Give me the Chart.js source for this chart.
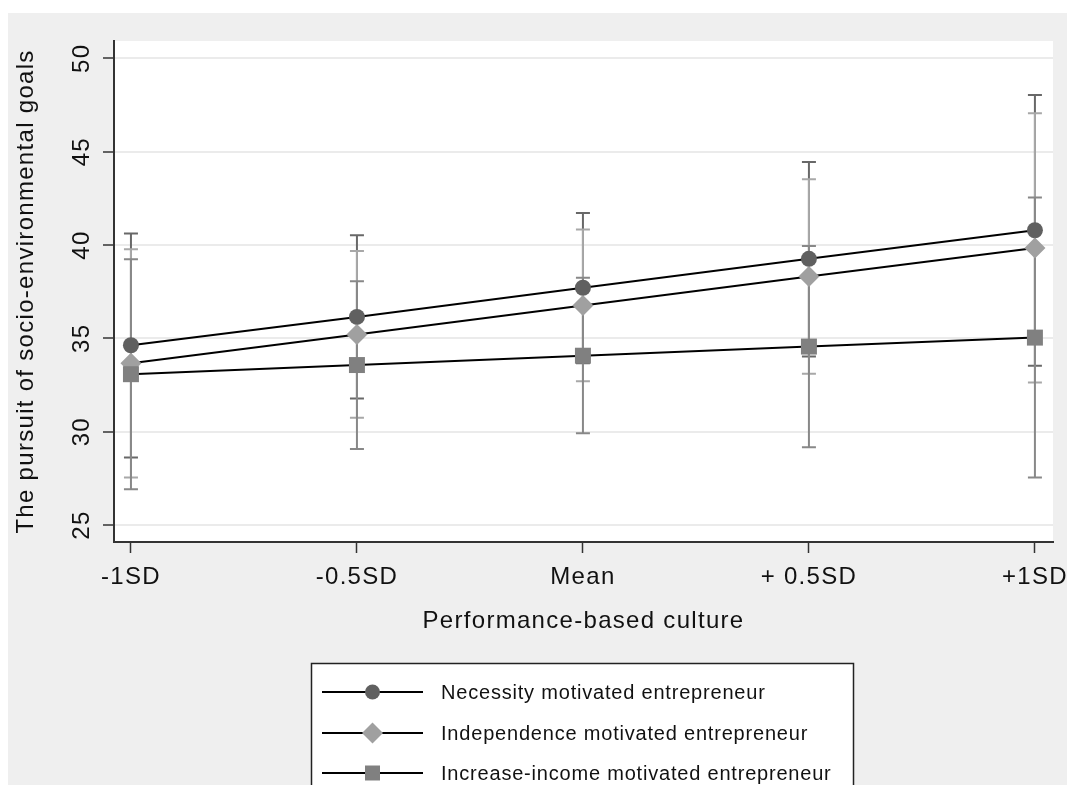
<!DOCTYPE html>
<html>
<head>
<meta charset="utf-8">
<script src="https://cdn.jsdelivr.net/npm/chart.js@4.4.1/dist/chart.umd.min.js"></script>
<style>
  html, body { margin: 0; padding: 0; background: #fff; overflow: hidden; }
  #wrap { width: 1067px; height: 785px; position: relative; }
  #chart { display: block; }
</style>
</head>
<body>
<div id="wrap"><canvas id="chart"></canvas></div>
<script>
// x categories
const categories = ['-1SD', '-0.5SD', 'Mean', '+ 0.5SD', '+1SD'];
const seriesLabels = [
    'Necessity motivated entrepreneur',
    'Independence motivated entrepreneur',
    'Increase-income motivated entrepreneur'
];

// predicted values and CI bounds
const necessity   = [34.63, 36.15, 37.71, 39.26, 40.79];
const necessityLo = [28.62, 31.78, 33.66, 34.03, 33.53];
const necessityHi = [40.62, 40.52, 41.72, 44.45, 48.04];

const independence   = [33.67, 35.21, 36.76, 38.31, 39.84];
const independenceLo = [27.55, 30.74, 32.70, 33.10, 32.64];
const independenceHi = [39.78, 39.68, 40.83, 43.52, 47.06];

const increase   = [33.08, 33.57, 34.07, 34.56, 35.04];
const increaseLo = [26.91, 29.07, 29.91, 29.16, 27.54];
const increaseHi = [39.24, 38.06, 38.24, 39.95, 42.54];

const FONT = "'Liberation Sans', Arial, Helvetica, sans-serif";

// look of each series (marker + error bar colour)
const looks = [
    { style: 'circle',  radius: 8,    fill: '#606060', bar: '#686868' },
    { style: 'rectRot', radius: 10.5, fill: '#a0a0a0', bar: '#a8a8a8' },
    { style: 'rect',    radius: 11.3, fill: '#808080', bar: '#888888' }
];
const bounds = [
    [necessityLo, necessityHi],
    [independenceLo, independenceHi],
    [increaseLo, increaseHi]
];

function toPoints(arr) {
    return arr.map((v, i) => ({ x: i, y: v }));
}

// background: gray graph region, white plot region
const backgroundPlugin = {
    id: 'bg',
    beforeDraw(chart) {
        const ctx = chart.ctx;
        const a = chart.chartArea;
        ctx.save();
        ctx.fillStyle = '#ffffff';
        ctx.fillRect(0, 0, chart.width, chart.height);
        ctx.fillStyle = '#efefef';
        ctx.fillRect(8, 13, chart.width - 8, chart.height - 13);
        ctx.fillStyle = '#ffffff';
        ctx.fillRect(a.left, a.top, a.right - a.left, a.bottom - a.top);
        ctx.restore();
        ctx.letterSpacing = '1.3px';
    }
};

// capped error bars, drawn behind the lines
const errorBarPlugin = {
    id: 'errbars',
    beforeDatasetsDraw(chart) {
        const ctx = chart.ctx;
        const xs = chart.scales.x, ys = chart.scales.y;
        ctx.save();
        ctx.lineWidth = 2;
        bounds.forEach((b, s) => {
            ctx.strokeStyle = looks[s].bar;
            b[0].forEach((lo, i) => {
                const x = xs.getPixelForValue(i);
                const y1 = ys.getPixelForValue(lo);
                const y2 = ys.getPixelForValue(b[1][i]);
                ctx.beginPath();
                ctx.moveTo(x, y1); ctx.lineTo(x, y2);
                ctx.moveTo(x - 7, y1); ctx.lineTo(x + 7, y1);
                ctx.moveTo(x - 7, y2); ctx.lineTo(x + 7, y2);
                ctx.stroke();
            });
        });
        ctx.restore();
    }
};

function drawMarker(ctx, look, x, y) {
    ctx.fillStyle = look.fill;
    ctx.beginPath();
    if (look.style === 'circle') {
        ctx.arc(x, y, 7.5, 0, Math.PI * 2);
    } else if (look.style === 'rectRot') {
        const r = 10.5;
        ctx.moveTo(x, y - r); ctx.lineTo(x + r, y); ctx.lineTo(x, y + r); ctx.lineTo(x - r, y);
        ctx.closePath();
    } else {
        ctx.rect(x - 7.5, y - 7.5, 15, 15);
    }
    ctx.fill();
}

// rotated y tick labels + legend box
const extrasPlugin = {
    id: 'extras',
    afterDraw(chart) {
        const ctx = chart.ctx;
        const ys = chart.scales.y;
        ctx.save();
        ctx.letterSpacing = '1.3px';
        ctx.fillStyle = '#111';
        ctx.font = '24px ' + FONT;
        ctx.textAlign = 'center';
        ctx.textBaseline = 'middle';
        ys.ticks.forEach(t => {
            const y = ys.getPixelForValue(t.value);
            ctx.save();
            ctx.translate(82, y);
            ctx.rotate(-Math.PI / 2);
            ctx.fillText(String(t.value), 0, 0);
            ctx.restore();
        });
        ctx.restore();

        // legend
        ctx.save();
        ctx.fillStyle = '#ffffff';
        ctx.strokeStyle = '#222';
        ctx.lineWidth = 1.5;
        ctx.fillRect(311.5, 663.5, 542, 140);
        ctx.strokeRect(311.5, 663.5, 542, 140);
        const rows = [692, 733, 773];
        seriesLabels.forEach((label, i) => {
            const y = rows[i];
            ctx.strokeStyle = '#000';
            ctx.lineWidth = 2;
            ctx.beginPath();
            ctx.moveTo(322, y); ctx.lineTo(423, y);
            ctx.stroke();
            drawMarker(ctx, looks[i], 372.5, y);
            ctx.letterSpacing = '0.8px';
            ctx.fillStyle = '#111';
            ctx.font = '20px ' + FONT;
            ctx.textAlign = 'left';
            ctx.textBaseline = 'middle';
            ctx.fillText(label, 441, y + 1);
        });
        ctx.restore();
    }
};

const seriesData = [necessity, independence, increase];

new Chart(document.getElementById('chart'), {
    type: 'line',
    data: {
        datasets: seriesData.map((vals, i) => ({
            label: seriesLabels[i],
            data: toPoints(vals),
            borderColor: '#000',
            borderWidth: 2,
            pointStyle: looks[i].style,
            pointRadius: looks[i].radius,
            pointBackgroundColor: looks[i].fill,
            pointBorderColor: looks[i].fill,
            pointBorderWidth: 0,
            tension: 0,
            order: 2 - i
        }))
    },
    options: {
        responsive: true,
        maintainAspectRatio: false,
        animation: false,
        layout: { padding: { top: 41, right: 14, bottom: 146, left: 0 } },
        plugins: {
            legend: { display: false },
            tooltip: { enabled: false }
        },
        scales: {
            x: {
                type: 'linear',
                min: -0.075,
                max: 4.08,
                grid: { drawOnChartArea: false, drawTicks: true, tickLength: 11, tickColor: '#333', tickWidth: 1.5 },
                border: { display: true, color: '#333', width: 2 },
                ticks: {
                    stepSize: 1,
                    includeBounds: false,
                    autoSkip: false,
                    maxRotation: 0,
                    padding: 10,
                    color: '#111',
                    font: { family: FONT, size: 24 },
                    callback: v => categories[v] ?? ''
                },
                title: {
                    display: true,
                    text: 'Performance-based culture',
                    color: '#111',
                    font: { family: FONT, size: 24 },
                    padding: { top: 0, bottom: 3.6 }
                },
                afterFit: s => {
                    s.height = 97;
                    // the +1SD label may hang past the plot edge, as in the original
                    s.paddingLeft = 0;
                    s.paddingRight = 0;
                }
            },
            y: {
                min: 24.09,
                max: 50.93,
                grid: { color: '#ebebeb', lineWidth: 2, tickLength: 11, tickColor: '#333', tickWidth: 1.5 },
                border: { display: true, color: '#333', width: 2 },
                ticks: { stepSize: 5, includeBounds: false, display: false },
                title: {
                    display: true,
                    text: 'The pursuit of socio-environmental goals',
                    color: '#111',
                    font: { family: FONT, size: 24 },
                    padding: { top: 12, bottom: 0 }
                },
                afterFit: s => { s.width = 114; }
            }
        }
    },
    plugins: [backgroundPlugin, errorBarPlugin, extrasPlugin]
});
</script>
</body>
</html>
